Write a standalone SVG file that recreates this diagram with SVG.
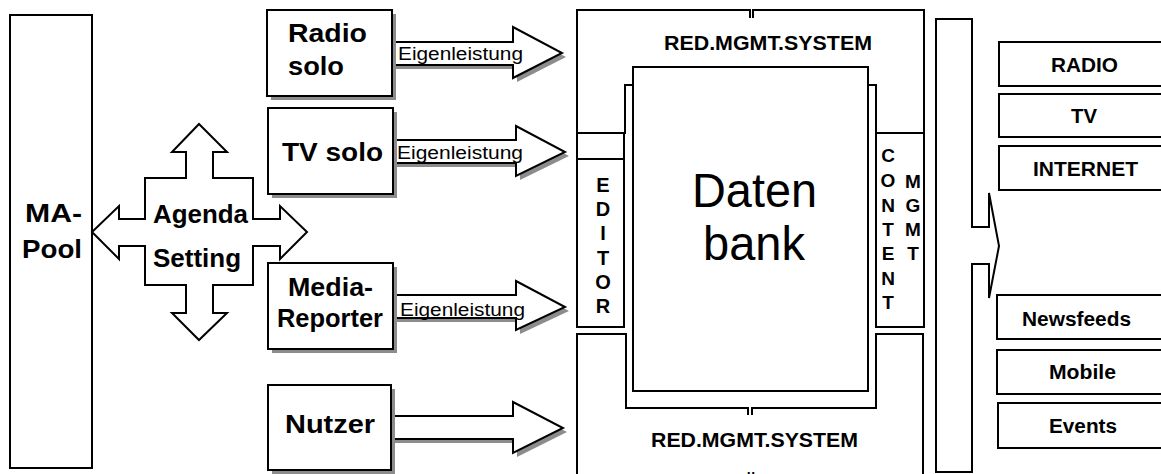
<svg xmlns="http://www.w3.org/2000/svg" width="1161" height="474" viewBox="0 0 1161 474">
<style>
.s{fill:#fff;stroke:#000;stroke-width:2}
.ln{fill:none;stroke:#000;stroke-width:2}
.sh{fill:#8c8c8c;stroke:none}
.b{font-family:"Liberation Sans",Arial,sans-serif;font-weight:bold;fill:#000}
.r{font-family:"Liberation Sans",Arial,sans-serif;fill:#000}
.big{font-size:25px}
.md{font-size:20px}
.c{text-anchor:middle}
</style>
<rect width="1161" height="474" fill="#fff"/>

<g id="ma-pool">
  <rect class="s" x="10" y="15" width="82" height="453"/>
  <text class="b big" x="25" y="222" textLength="57" lengthAdjust="spacingAndGlyphs">MA-</text>
  <text class="b big" x="22" y="258" textLength="60" lengthAdjust="spacingAndGlyphs">Pool</text>
</g>

<g id="agenda-setting">
  <path class="s" d="M199,124 L227,152 L213,152 L213,178 L253,178 L253,219 L280,219 L280,206 L307,232 L280,259 L280,246 L253,246 L253,285 L213,285 L213,313 L227,313 L199,340 L172,313 L186,313 L186,285 L145,285 L145,246 L119,246 L119,259 L92,232 L119,206 L119,219 L145,219 L145,178 L186,178 L186,152 L172,152 Z"/>
  <text class="b big" x="153" y="223" textLength="95" lengthAdjust="spacingAndGlyphs">Agenda</text>
  <text class="b big" x="153" y="267" textLength="88" lengthAdjust="spacingAndGlyphs">Setting</text>
</g>

<g id="connectors">
  <g class="sh">
    <polygon transform="translate(4,4)" points="392,42 513,42 513,27 562,53 513,78 513,65 392,65"/>
    <polygon transform="translate(4,4)" points="393,140 516,140 516,126 565,152 516,176 516,163 393,163"/>
    <polygon transform="translate(4,4)" points="393,295 516,295 516,281 565,307 516,330 516,318 393,318"/>
    <polygon transform="translate(4,4)" points="391,416 513,416 513,402 563,428 513,453 513,439 391,439"/>
  </g>
  <polygon class="s" points="392,42 513,42 513,27 562,53 513,78 513,65 392,65"/>
  <polygon class="s" points="393,140 516,140 516,126 565,152 516,176 516,163 393,163"/>
  <polygon class="s" points="393,295 516,295 516,281 565,307 516,330 516,318 393,318"/>
  <polygon class="s" points="391,416 513,416 513,402 563,428 513,453 513,439 391,439"/>
  <text class="r" font-size="17.5" x="398" y="60" textLength="125" lengthAdjust="spacingAndGlyphs">Eigenleistung</text>
  <text class="r" font-size="17.5" x="397" y="159" textLength="126" lengthAdjust="spacingAndGlyphs">Eigenleistung</text>
  <text class="r" font-size="17.5" x="400" y="316" textLength="125" lengthAdjust="spacingAndGlyphs">Eigenleistung</text>
  <polygon class="s" points="936,19 972,19 972,227 989,227 989,193 999,246 989,298 989,264 972,264 972,472 936,472"/>
</g>

<g id="radio-solo">
  <rect class="sh" x="271" y="14" width="125" height="86"/>
  <rect class="s" x="267" y="10" width="125" height="86"/>
  <text class="b big" x="288" y="42" textLength="79" lengthAdjust="spacingAndGlyphs">Radio</text>
  <text class="b big" x="288" y="75" textLength="56" lengthAdjust="spacingAndGlyphs">solo</text>
</g>
<g id="tv-solo">
  <rect class="sh" x="272" y="112" width="125" height="86"/>
  <rect class="s" x="268" y="108" width="125" height="86"/>
  <text class="b big" x="282" y="161" textLength="101" lengthAdjust="spacingAndGlyphs">TV solo</text>
</g>
<g id="media-reporter">
  <rect class="sh" x="272" y="267" width="125" height="86"/>
  <rect class="s" x="268" y="263" width="125" height="86"/>
  <text class="b big" x="288" y="296" textLength="85" lengthAdjust="spacingAndGlyphs">Media-</text>
  <text class="b big" x="277" y="327" textLength="106" lengthAdjust="spacingAndGlyphs">Reporter</text>
</g>
<g id="nutzer">
  <rect class="sh" x="272" y="389" width="123" height="85"/>
  <rect class="s" x="268" y="385" width="123" height="85"/>
  <text class="b big" x="285" y="433" textLength="90" lengthAdjust="spacingAndGlyphs">Nutzer</text>
</g>

<g id="red-mgmt-top">
  <polygon class="s" points="577,10 924,10 924,133 876,133 876,85 625,85 625,133 577,133"/>
  <rect x="751" y="8" width="1" height="10" fill="#fff"/>
  <path class="ln" d="M750,10 V18 M753,10 V18"/>
  <text class="b md" x="664" y="50" textLength="208" lengthAdjust="spacingAndGlyphs">RED.MGMT.SYSTEM</text>
</g>
<g id="red-mgmt-bottom">
  <polygon class="s" points="577,480 577,334 626,334 626,408 876,408 876,334 923,334 923,480"/>
  <rect x="749" y="407" width="2" height="9" fill="#fff"/>
  <path class="ln" d="M748,408 V415 M752,408 V415"/>
  <text class="b md" x="651" y="447" textLength="207" lengthAdjust="spacingAndGlyphs">RED.MGMT.SYSTEM</text>
  <text class="b md c" x="751" y="490">Ü</text>
</g>
<g id="editor">
  <rect class="s" x="577" y="133" width="47" height="26"/>
  <rect class="s" x="577" y="159" width="47" height="168"/>
  <g class="b md c">
    <text x="603" y="192">E</text>
    <text x="603" y="216">D</text>
    <text x="603" y="240">I</text>
    <text x="603" y="265">T</text>
    <text x="603" y="289">O</text>
    <text x="603" y="313">R</text>
  </g>
</g>
<g id="content-mgmt">
  <rect class="s" x="876" y="133" width="48" height="194"/>
  <g class="b c" font-size="19">
    <text x="888" y="162">C</text>
    <text x="888" y="187">O</text>
    <text x="888" y="212">N</text>
    <text x="888" y="236">T</text>
    <text x="888" y="260">E</text>
    <text x="888" y="285">N</text>
    <text x="888" y="309">T</text>
    <text x="913" y="188">M</text>
    <text x="913" y="212">G</text>
    <text x="913" y="236">M</text>
    <text x="913" y="260">T</text>
  </g>
</g>
<g id="datenbank">
  <rect class="s" x="633" y="67" width="235" height="324"/>
  <text class="r" font-size="48" x="692" y="207" textLength="125" lengthAdjust="spacingAndGlyphs">Daten</text>
  <text class="r" font-size="48" x="703" y="260" textLength="102" lengthAdjust="spacingAndGlyphs">bank</text>
</g>

<g id="out-radio">
  <rect class="s" x="999" y="42" width="200" height="44"/>
  <text class="b md" x="1051" y="72" textLength="67" lengthAdjust="spacingAndGlyphs">RADIO</text>
</g>
<g id="out-tv">
  <rect class="s" x="999" y="94" width="200" height="43"/>
  <text class="b md" x="1071" y="123" textLength="26" lengthAdjust="spacingAndGlyphs">TV</text>
</g>
<g id="out-internet">
  <rect class="s" x="999" y="146" width="200" height="44"/>
  <text class="b md" x="1033" y="176" textLength="105" lengthAdjust="spacingAndGlyphs">INTERNET</text>
</g>
<g id="out-newsfeeds">
  <rect class="s" x="997" y="295" width="200" height="44"/>
  <text class="b md" x="1022" y="326" textLength="109" lengthAdjust="spacingAndGlyphs">Newsfeeds</text>
</g>
<g id="out-mobile">
  <rect class="s" x="997" y="350" width="200" height="44"/>
  <text class="b md" x="1049" y="379" textLength="67" lengthAdjust="spacingAndGlyphs">Mobile</text>
</g>
<g id="out-events">
  <rect class="s" x="998" y="403" width="200" height="45"/>
  <text class="b md" x="1049" y="433" textLength="68" lengthAdjust="spacingAndGlyphs">Events</text>
</g>
</svg>
